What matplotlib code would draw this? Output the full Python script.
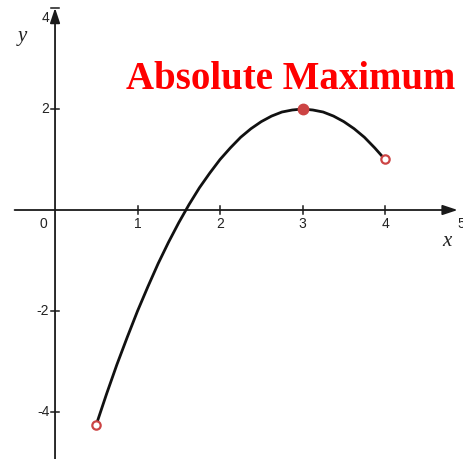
import matplotlib
matplotlib.use("Agg")
import matplotlib.pyplot as plt

# Curve values
curve_x = [0.5, 0.625, 0.75, 0.875, 1.0, 1.125, 1.25, 1.375, 1.5, 1.625, 1.75, 1.875,
           2.0, 2.125, 2.25, 2.375, 2.5, 2.625, 2.75, 2.875, 3.0, 3.125, 3.25, 3.375,
           3.5, 3.625, 3.75, 3.875, 4.0]
curve_y = [-4.25, -3.64, -3.06, -2.52, -2.0, -1.52, -1.06, -0.64, -0.25, 0.11, 0.44, 0.73,
           1.0, 1.23, 1.44, 1.61, 1.75, 1.86, 1.94, 1.98, 2.0, 1.98, 1.94, 1.86,
           1.75, 1.61, 1.44, 1.23, 1.0]
max_pt = (3, 2)
open_pts_x = [0.5, 4]
open_pts_y = [-4.25, 1]
x_ticks = [1, 2, 3, 4]
x_tick_labels = ["1", "2", "3", "4"]
y_ticks = [-4, -2, 2, 4]
y_tick_labels = ["-4", "-2", "2", "4"]
title = "Absolute Maximum"

W, H = 463, 459
fig = plt.figure(figsize=(W / 100, H / 100), dpi=100)
ax = fig.add_axes([0, 0, 1, 1])
ax.set_xlim(-0.667, 4.945)
ax.set_ylim(-4.93, 4.158)
ax.axis("off")

axis_col = "#1a1a1a"
red = "#cc4444"

# axes with arrows
ax.annotate("", xy=(4.88, 0), xytext=(-0.49, 0),
            arrowprops=dict(arrowstyle="-|>,head_length=0.9,head_width=0.3", color=axis_col, lw=1.3,
                            shrinkA=0, shrinkB=0))
ax.annotate("", xy=(0, 4.0), xytext=(0, -4.93),
            arrowprops=dict(arrowstyle="-|>,head_length=0.9,head_width=0.3", color=axis_col, lw=1.3,
                            shrinkA=0, shrinkB=0))

# ticks
for t in x_ticks:
    ax.plot([t, t], [-0.07, 0.07], color=axis_col, lw=1.1)
for t in y_ticks:
    ax.plot([-0.045, 0.045], [t, t], color=axis_col, lw=1.1)

tick_font = dict(family="Liberation Sans", fontsize=10, color="#222222")
for t, lab in zip(x_ticks, x_tick_labels):
    ax.text(t, -0.14, lab, ha="center", va="top", **tick_font)
ax.text(4.88, -0.14, "5", ha="left", va="top", **tick_font)
ax.text(-0.09, -0.14, "0", ha="right", va="top", **tick_font)
for t, lab in zip(y_ticks, y_tick_labels):
    yy = t if t != 4 else 3.8
    ax.text(-0.07, yy, lab, ha="right", va="center", **tick_font)

# axis names
ax.text(-0.4, 3.43, "y", ha="center", va="center", family="Liberation Serif",
        style="italic", fontsize=15, color="#222222")
ax.text(4.75, -0.63, "x", ha="center", va="center", family="Liberation Serif",
        style="italic", fontsize=15, color="#222222")

# curve
ax.plot(curve_x, curve_y, color="#111111", lw=2.0, solid_capstyle="round", zorder=3)

# points
ax.plot([max_pt[0]], [max_pt[1]], "o", ms=7.5, color=red, mec=red, zorder=5)
ax.plot(open_pts_x, open_pts_y, "o", ms=6, mfc="white", mec=red, mew=1.6, zorder=5)

# title
ax.text(2.85, 2.40, title, ha="center", va="baseline", family="Liberation Serif",
        fontweight="bold", fontsize=28, color="#ff0000")

fig.savefig("out.png", dpi=100)
